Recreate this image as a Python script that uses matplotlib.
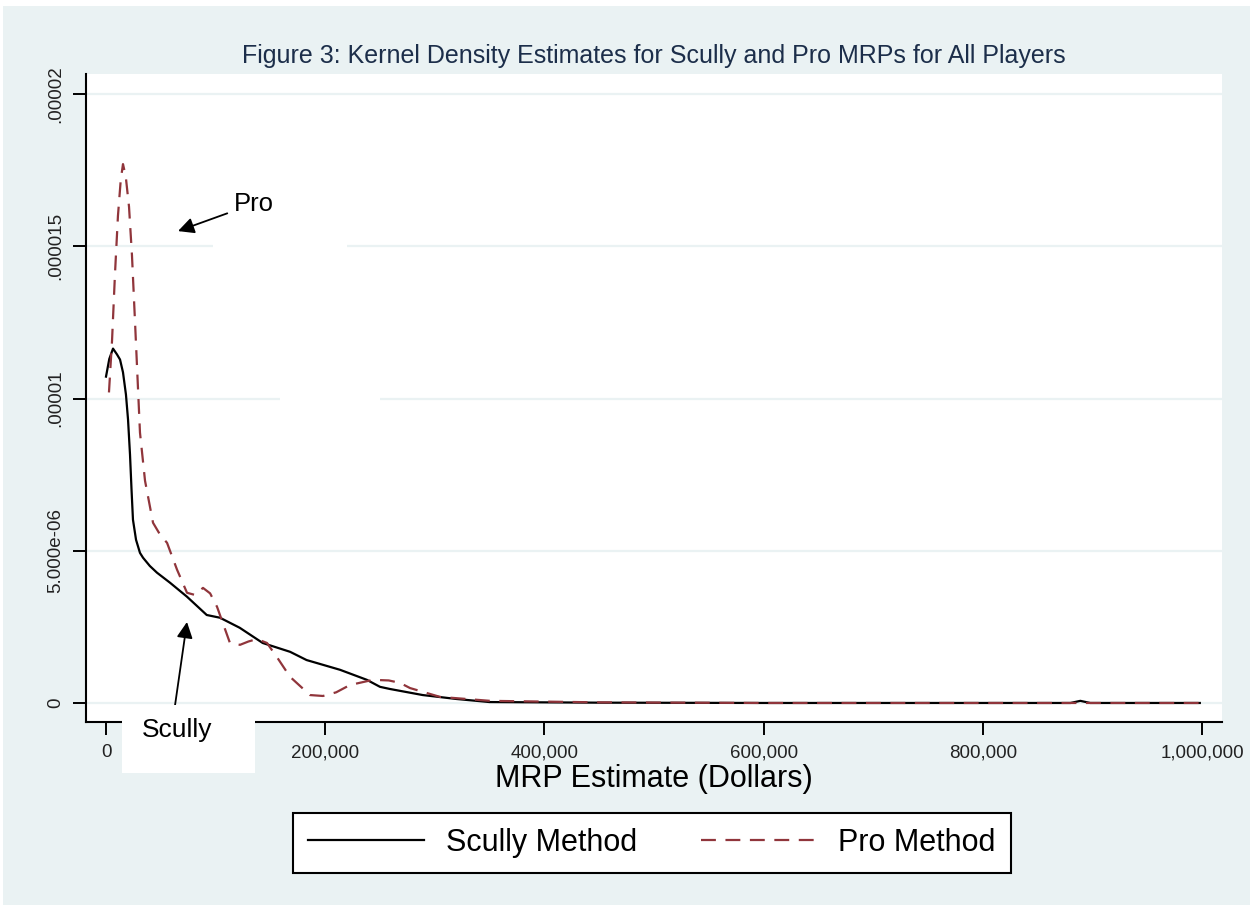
import matplotlib
matplotlib.use("Agg")
import matplotlib.pyplot as plt
from matplotlib.patches import Rectangle

plt.rcParams['font.family'] = ['Liberation Sans', 'DejaVu Sans']

# ---- data (x in dollars, density) ----
scully_x = [0, 3000, 6400, 10000, 12800, 15500, 18200, 20100, 21900, 23300, 24600, 27400, 31000,
            33800, 40000, 46500, 58400, 73900, 91900, 104000, 122000, 143000, 168000, 183000,
            213500, 238000, 250000, 259000, 289000, 320000, 350000, 450000, 600000, 800000,
            880000, 889000, 898000, 998000]
scully_y = [10.72e-6, 11.3e-6, 11.64e-6, 11.45e-6, 11.28e-6, 10.86e-6, 10.13e-6, 9.31e-6, 8.16e-6,
            7.0e-6, 6.02e-6, 5.36e-6, 4.93e-6, 4.77e-6, 4.5e-6, 4.28e-6, 3.95e-6, 3.49e-6, 2.89e-6,
            2.80e-6, 2.47e-6, 1.97e-6, 1.68e-6, 1.41e-6, 1.09e-6, 0.76e-6, 0.53e-6, 0.46e-6,
            0.26e-6, 0.13e-6, 0.03e-6, 0.01e-6, 0.0, 0.0, 0.0, 0.07e-6, 0.0, 0.0]

pro_x = [2700, 5500, 8200, 10900, 13500, 15500, 18000, 21000, 23700, 26500, 31000, 35600, 42900,
         49300, 55700, 64800, 73900, 81000, 88500, 95000, 101300, 113100, 122300, 130000, 137800,
         146900, 157000, 167900, 186100, 198000, 210000, 222600, 243600, 258000, 268200, 277400,
         304700, 350400, 450000, 600000, 800000, 998000]
pro_y = [10.2e-6, 11.9e-6, 14.1e-6, 16.0e-6, 17.2e-6, 17.7e-6, 17.3e-6, 16.3e-6, 14.7e-6, 12.5e-6,
         8.88e-6, 7.3e-6, 5.92e-6, 5.53e-6, 5.26e-6, 4.38e-6, 3.62e-6, 3.55e-6, 3.78e-6, 3.6e-6,
         3.16e-6, 1.97e-6, 1.91e-6, 2.02e-6, 2.10e-6, 1.97e-6, 1.45e-6, 0.86e-6, 0.26e-6, 0.23e-6,
         0.35e-6, 0.59e-6, 0.76e-6, 0.74e-6, 0.66e-6, 0.49e-6, 0.20e-6, 0.07e-6, 0.02e-6, 0.0, 0.0, 0.0]

x_ticks = [0, 200000, 400000, 600000, 800000, 1000000]
x_labels = ["0", "200,000", "400,000", "600,000", "800,000", "1,000,000"]
y_ticks = [0, 5e-6, 1e-5, 1.5e-5, 2e-5]
y_labels = ["0", "5.000e-06", ".00001", ".000015", ".00002"]
series_names = ["Scully Method", "Pro Method"]

BG = "#EAF2F3"
RED = "#90353B"

fig = plt.figure(figsize=(12.53, 9.09), dpi=100, facecolor="white")
# outer light panel
fig.patches.append(Rectangle((3/1253, 4/909), 1247/1253, 899/909, transform=fig.transFigure,
                             facecolor=BG, edgecolor="none", zorder=-10))

ax = fig.add_axes([86/1253, 1 - 722/909, (1222 - 86)/1253, (722 - 74)/909])
ax.set_facecolor("white")
ax.set_xlim(-18250, 1018250)
ax.set_ylim(-6.25e-7, 2.066e-5)

ax.set_xticks(x_ticks)
ax.set_xticklabels(x_labels)
ax.set_yticks(y_ticks)
ax.set_yticklabels(y_labels, rotation=90, va="center")
ax.tick_params(axis="both", direction="out", length=9.5, width=1.4, colors="black",
               labelsize=13.5, pad=6.5)
for lab in ax.get_xticklabels() + ax.get_yticklabels():
    lab.set_color("#222222")

ax.grid(axis="y", color=BG, linewidth=1.6, zorder=0)
ax.set_axisbelow(True)
for s in ["top", "right"]:
    ax.spines[s].set_visible(False)
for s in ["left", "bottom"]:
    ax.spines[s].set_linewidth(1.5)
    ax.spines[s].set_color("black")

# white patches breaking gridlines
ax.add_patch(Rectangle((97600, 14.85e-6), 122400, 0.3e-6, facecolor="white", edgecolor="none", zorder=1))
ax.add_patch(Rectangle((158800, 9.85e-6), 91200, 0.3e-6, facecolor="white", edgecolor="none", zorder=1))

l1, = ax.plot(scully_x, scully_y, color="black", linewidth=1.6, zorder=3, label=series_names[0])
l2, = ax.plot(pro_x, pro_y, color=RED, linewidth=1.6, dashes=(6.7, 4.3), zorder=4, label=series_names[1])

ax.set_xlabel("MRP Estimate (Dollars)", fontsize=22, labelpad=2)

fig.text(654/1253, 1 - 56/909, "Figure 3: Kernel Density Estimates for Scully and Pro MRPs for All Players",
         ha="center", va="center", fontsize=18, color="#1C2E4A")

# Pro annotation
ax.annotate("Pro", xy=(65700, 15.5e-6), xytext=(135000, 16.4e-6), fontsize=18.5,
            ha="center", va="center",
            arrowprops=dict(arrowstyle="-|>", color="black", lw=1.3, mutation_scale=24,
                            shrinkA=3, shrinkB=0), zorder=6)

# Scully annotation with white box
fig.patches.append(Rectangle((122/1253, 1 - 773/909), 133/1253, 68/909, transform=fig.transFigure,
                             facecolor="white", edgecolor="none", zorder=5))
fig.text(177/1253, 1 - 730/909, "Scully", ha="center", va="center", fontsize=19, zorder=6)
ax.annotate("", xy=(73900, 2.66e-6), xytext=(63000, -0.07e-6),
            arrowprops=dict(arrowstyle="-|>", color="black", lw=1.3, mutation_scale=24,
                            shrinkA=0, shrinkB=0), annotation_clip=False, zorder=6)

leg = fig.legend(handles=[l1, l2], labels=series_names, loc="center",
                 bbox_to_anchor=(652/1253, 1 - 843/909), ncol=2, fontsize=22,
                 frameon=True, fancybox=False, edgecolor="black", facecolor="white",
                 framealpha=1, handlelength=3.8, handletextpad=0.7, columnspacing=2.1,
                 borderpad=0.5)
leg.get_frame().set_linewidth(1.5)

fig.savefig("out.png", dpi=100, facecolor="white")
